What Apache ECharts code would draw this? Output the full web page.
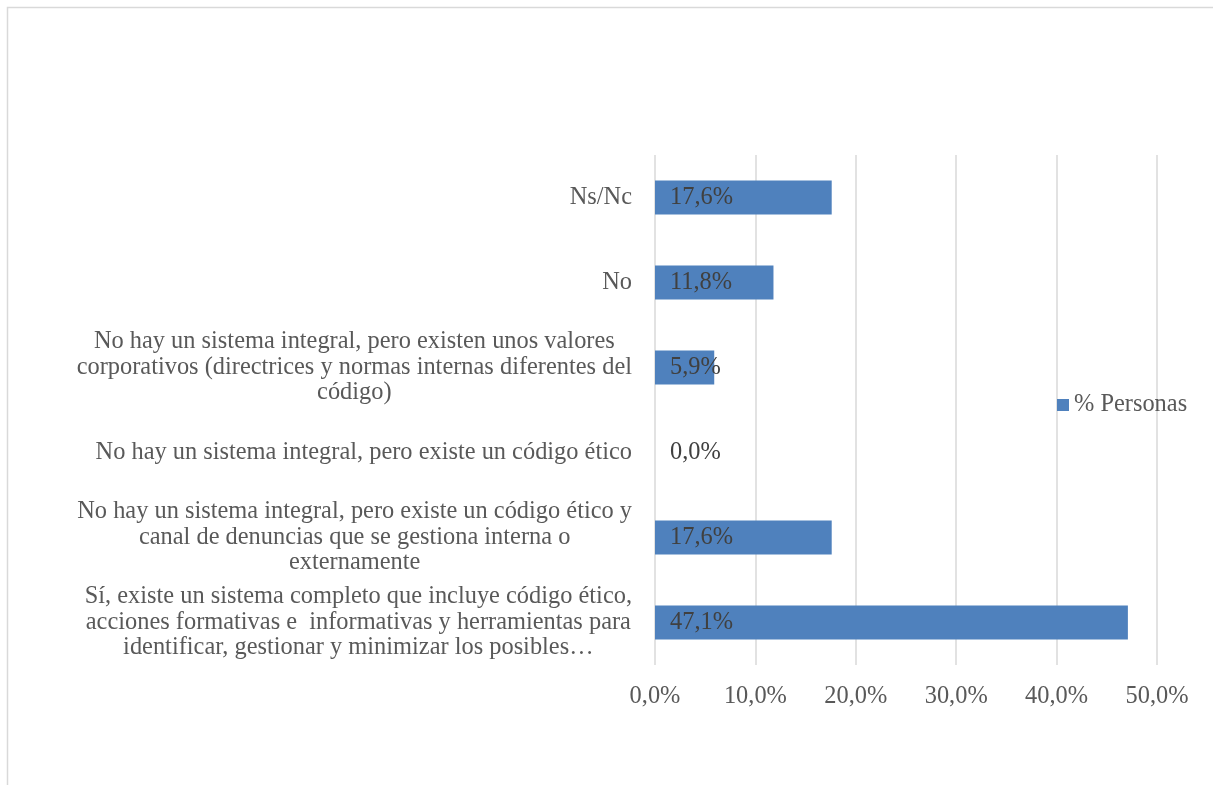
<!DOCTYPE html>
<html>
<head>
<meta charset="utf-8">
<script src="https://cdn.jsdelivr.net/npm/echarts@6/dist/echarts.min.js"></script>
<style>
  html, body { margin: 0; padding: 0; background: #fff; }
  #chart { width: 1213px; height: 785px; }
</style>
</head>
<body>
<div id="chart"></div>
<script>
// categories from bottom to top, as they appear on the axis
var categories = [
    'Sí, existe un sistema completo que incluye código ético,\nacciones formativas e  informativas y herramientas para\nidentificar, gestionar y minimizar los posibles…',
    'No hay un sistema integral, pero existe un código ético y\ncanal de denuncias que se gestiona interna o\nexternamente',
    'No hay un sistema integral, pero existe un código ético',
    'No hay un sistema integral, pero existen unos valores\ncorporativos (directrices y normas internas diferentes del\ncódigo)',
    'No',
    'Ns/Nc'
];
var personas = [47.1, 17.6, 0.0, 5.9, 11.8, 17.6];
var xTicks = [0, 10, 20, 30, 40, 50];

var fontFamily = '"Liberation Serif", serif';
var fontSize = 24.4;
var pct = function (v) { return v.toFixed(1).replace('.', ',') + '%'; };

var myChart = echarts.init(document.getElementById('chart'));
var option;

option = {
    graphic: [{
        type: 'rect',
        shape: { x: 7.5, y: 7.5, width: 1240, height: 820 },
        style: { fill: 'none', stroke: '#d9d9d9', lineWidth: 1.5 },
        silent: true
    }],
    legend: {
        left: 1057,
        top: 393,
        padding: 0,
        icon: 'rect',
        itemWidth: 12,
        itemHeight: 12,
        itemGap: 6,
        textStyle: { fontFamily: fontFamily, fontSize: fontSize, color: '#595959' },
        data: ['% Personas']
    },
    grid: {
        left: 655,
        right: 56,
        top: 155,
        bottom: 120
    },
    xAxis: {
        type: 'value',
        min: xTicks[0],
        max: xTicks[xTicks.length - 1],
        interval: 10,
        axisLine: { show: false },
        axisTick: { show: false },
        splitLine: { lineStyle: { color: '#d9d9d9', width: 1.5 } },
        axisLabel: {
            margin: 20,
            fontFamily: fontFamily,
            fontSize: fontSize,
            color: '#595959',
            formatter: pct
        }
    },
    yAxis: {
        type: 'category',
        data: categories,
        axisLine: { show: false },
        axisTick: { show: false },
        axisLabel: {
            margin: 23,
            fontFamily: fontFamily,
            fontSize: fontSize,
            color: '#595959',
            lineHeight: 25.5,
            align: 'right',
            formatter: function (v) {
                return v.split('\n').map(function (l) { return '{c|' + l + '}'; }).join('\n');
            },
            rich: {
                c: { align: 'center', fontFamily: fontFamily, fontSize: fontSize, color: '#595959', lineHeight: 25.5 }
            }
        }
    },
    series: [
        {
            name: '% Personas',
            type: 'bar',
            barWidth: '40%',
            itemStyle: { color: '#4f81bd' },
            label: {
                show: true,
                position: 'insideLeft',
                distance: 15,
                fontFamily: fontFamily,
                fontSize: fontSize,
                color: '#404040',
                formatter: function (p) { return pct(p.value); }
            },
            data: personas
        }
    ]
};
option && myChart.setOption(option);
</script>
</body>
</html>
